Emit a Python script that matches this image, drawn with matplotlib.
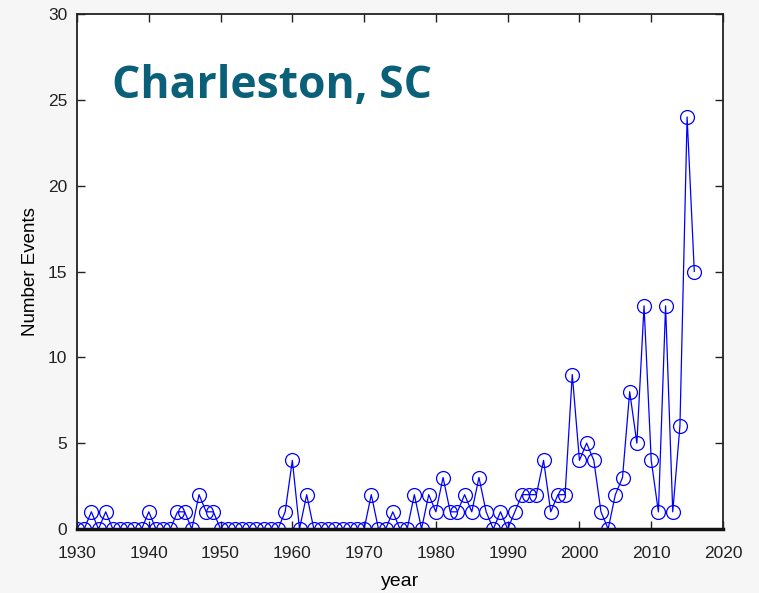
import matplotlib.pyplot as plt

# yearly counts
years = list(range(1930, 2017))
events = [0, 0, 1, 0, 1, 0, 0, 0, 0, 0,
          1, 0, 0, 0, 1, 1, 0, 2, 1, 1,
          0, 0, 0, 0, 0, 0, 0, 0, 0, 1,
          4, 0, 2, 0, 0, 0, 0, 0, 0, 0,
          0, 2, 0, 0, 1, 0, 0, 2, 0, 2,
          1, 3, 1, 1, 2, 1, 3, 1, 0, 1,
          0, 1, 2, 2, 2, 4, 1, 2, 2, 9,
          4, 5, 4, 1, 0, 2, 3, 8, 5, 13,
          4, 1, 13, 1, 6, 24, 15]
xticks = [1930, 1940, 1950, 1960, 1970, 1980, 1990, 2000, 2010, 2020]
yticks = [0, 5, 10, 15, 20, 25, 30]

plt.rcParams['font.family'] = ['Liberation Sans', 'DejaVu Sans']

fig = plt.figure(figsize=(7.59, 5.93), dpi=100)
fig.patch.set_facecolor("#f6f6f6")
ax = fig.add_axes([77/759, 1 - 529/593, 646/759, 515/593])
ax.set_facecolor("white")

ax.plot(years, events, color="blue", linewidth=0.9, marker="o",
        markersize=10, markerfacecolor="none", markeredgecolor="blue",
        markeredgewidth=0.9)

ax.set_xlim(1930, 2020)
ax.set_ylim(0, 30)
ax.set_xticks(xticks)
ax.set_yticks(yticks)
ax.tick_params(direction="in", top=True, right=True, labelsize=12.5,
               length=6, width=1, colors="#222222")
ax.tick_params(axis="x", pad=12)
ax.tick_params(axis="y", pad=7)
for s in ax.spines.values():
    s.set_linewidth(1.3)
    s.set_color("#222222")
ax.spines["bottom"].set_linewidth(2.5)
ax.spines["bottom"].set_color("#111111")

ax.set_xlabel("year", fontsize=14, labelpad=9)
ax.set_ylabel("Number Events", fontsize=13.5, labelpad=6)

fig.text(112/759, 1 - 87/593, "Charleston, SC", fontsize=32,
         fontweight="bold", color="#0b6079", family="Open Sans",
         va="center", ha="left")

fig.savefig("out.png", dpi=100, facecolor=fig.get_facecolor())
